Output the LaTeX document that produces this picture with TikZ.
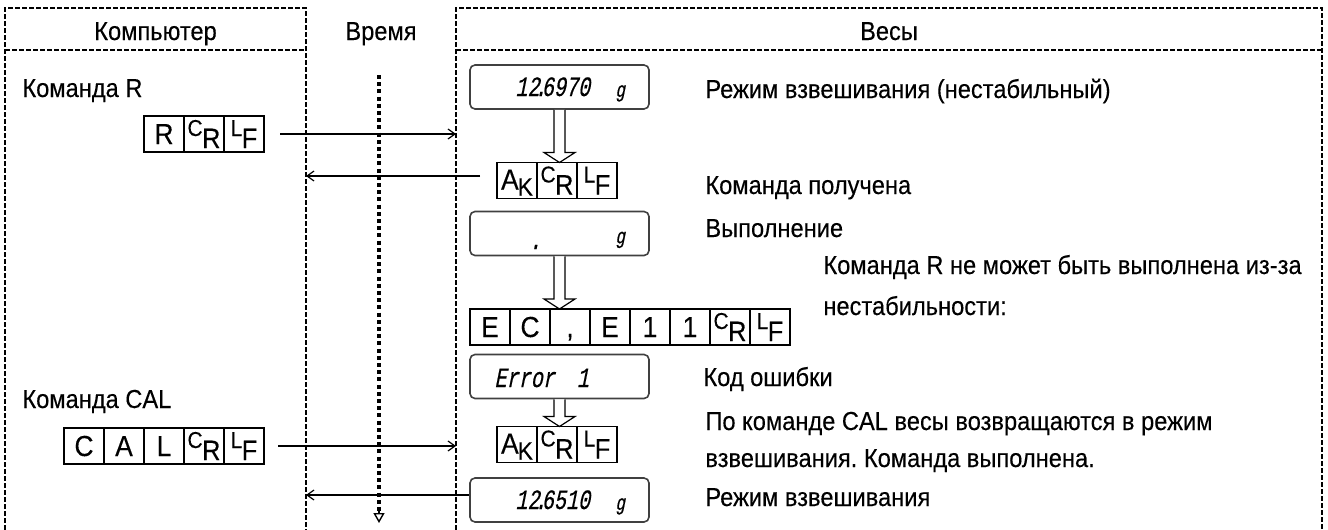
\documentclass[tikz,border=0pt]{standalone}
\usepackage{fontspec}
\setmainfont{Liberation Sans}[FakeStretch=0.91,FakeBold=0.25]
\newfontfamily\lcdfont{Liberation Mono}[FakeSlant=0.2,FakeStretch=0.72,FakeBold=0.4]
\usetikzlibrary{arrows.meta,positioning,calc}
\frenchspacing

% small raised letter followed by a lowered one (CR, LF)
\newcommand{\lopair}[2]{\raisebox{4pt}{\fontsize{11.5}{11.5}\selectfont #1}\kern-0.3pt\raisebox{-2pt}{\fontsize{14}{14}\selectfont #2}}
\newcommand{\akpair}{\raisebox{0.5pt}{A}\kern-0.5pt\raisebox{-2.5pt}{\fontsize{12.5}{12.5}\selectfont K}}
% hollow down arrow from one node to the next
\newcommand{\downblock}[2]{%
  \draw[hol] ([xshift=-2.75pt]#1.south) -- ($(#1.south |- #2.north)+(-5.5,-10)$) -- ++(-10,0)
    -- (#1.south |- #2.north) -- ($(#1.south |- #2.north)+(15.5,-10)$) -- ++(-10,0)
    -- ([xshift=2.75pt]#1.south);}

\begin{document}
\begin{tikzpicture}[x=0.5pt, y=-0.5pt,
    frame/.style={line width=1.2pt, dash pattern=on 2.5pt off 1pt},
    cellbox/.style={draw, line width=0.6pt, minimum width=20pt, minimum height=18pt, inner sep=0pt, outer sep=0pt, text height=10pt, text depth=0pt, font=\fontsize{14.5}{14.5}\selectfont},
    lcdbox/.style={draw=black!75, line width=0.8pt, rounded corners=2.5pt, minimum width=89.5pt, minimum height=22pt, inner sep=0pt},
    lcd/.style={font=\lcdfont\fontsize{14}{14}\selectfont, inner sep=0pt, anchor=base west},
    unit/.style={font=\lcdfont\fontsize{11}{11}\selectfont, inner sep=0pt, anchor=base west},
    txt/.style={anchor=base west, inner sep=0pt, font=\fontsize{13}{15}\selectfont},
    hdr/.style={anchor=base, inner sep=0pt, font=\fontsize{13}{15}\selectfont},
    arr/.style={-{Straight Barb[length=3.5pt,width=5pt]}, line width=0.6pt},
    hol/.style={draw, fill=white, line width=0.6pt, line join=miter},
    timeln/.style={line width=2.4pt, dash pattern=on 2pt off 1.6pt}
]
\useasboundingbox (0,0) rectangle (1328,530);

% frames
\draw[frame] (5,530) -- (5,8) -- (306,8) -- (306,530);
\draw[frame] (5,50) -- (306,50);
\draw[frame] (456,530) -- (456,8) -- (1322,8) -- (1322,530);
\draw[frame] (456,50) -- (1322,50);
\coordinate (pcR) at (306,0);
\coordinate (vesL) at (456,0);

\node[hdr] (hpc) at (155.5,40) {Компьютер};
\node[hdr] (htime) at (381,40) {Время};
\node[hdr] (hves) at (889,40) {Весы};

% time axis
\coordinate (t0) at (379,75);
\coordinate (t1) at (379,511);
\coordinate (t2) at (379,523);
\draw[timeln] (t0) -- (t1);
\draw[-{Triangle[open,length=5pt,width=5.5pt]}, line width=0.7pt] (t1) -- (t2);

% computer side
\node[txt] (cmdr) at (22,97) {Команда R};
\node[cellbox] (r1) at (164,134) {R};
\node[cellbox, right=0pt of r1] (r2) {\lopair{C}{R}};
\node[cellbox, right=0pt of r2] (r3) {\lopair{L}{F}};

\node[txt] (cmdcal) at (22,408) {Команда CAL};
\node[cellbox] (c1) at (84,446) {C};
\node[cellbox, right=0pt of c1] (c2) {A};
\node[cellbox, right=0pt of c2] (c3) {L};
\node[cellbox, right=0pt of c3] (c4) {\lopair{C}{R}};
\node[cellbox, right=0pt of c4] (c5) {\lopair{L}{F}};

% balance side
\node[lcdbox] (d1) at (559.5,87) {};
\node[lcd] (d1v) at (515,96) {12\kern-2.5pt.\kern-2.5pt6970};
\node[unit] (d1u) at (615,97) {g};

\node[cellbox] (ak1) at (517,180.5) {\akpair};
\node[cellbox, right=0pt of ak1] (ak2) {\lopair{C}{R}};
\node[cellbox, right=0pt of ak2] (ak3) {\lopair{L}{F}};

\node[lcdbox] (d2) at (559.5,233.5) {};
\node[lcd] (d2v) at (529,249) {.};
\node[unit] (d2u) at (615,243.5) {g};

\node[cellbox] (e1) at (490,327) {E};
\node[cellbox, right=0pt of e1] (e2) {C};
\node[cellbox, right=0pt of e2] (e3) {,};
\node[cellbox, right=0pt of e3] (e4) {E};
\node[cellbox, right=0pt of e4] (e5) {1};
\node[cellbox, right=0pt of e5] (e6) {1};
\node[cellbox, right=0pt of e6] (e7) {\lopair{C}{R}};
\node[cellbox, right=0pt of e7] (e8) {\lopair{L}{F}};

\node[lcdbox] (d3) at (559.5,376.5) {};
\node[lcd] (d3v) at (494,387) {Error\hspace{11pt}1};

\node[cellbox] (ak4) at (517,444.5) {\akpair};
\node[cellbox, right=0pt of ak4] (ak5) {\lopair{C}{R}};
\node[cellbox, right=0pt of ak5] (ak6) {\lopair{L}{F}};

\node[lcdbox] (d4) at (559.5,500) {};
\node[lcd] (d4v) at (515,509) {12\kern-2.5pt.\kern-2.5pt6510};
\node[unit] (d4u) at (615,510) {g};

\downblock{d1}{ak1}
\downblock{d2}{e1}
\downblock{d3}{ak4}

% messages
\draw[arr] ([xshift=8pt]r3.east) -- (r3.east -| vesL);
\coordinate (a2s) at ([shift={(-17,-4.5)}]ak1.west);
\draw[arr] (a2s) -- (a2s -| pcR);
\draw[arr] ([xshift=7pt]c5.east) -- (c5.east -| vesL);
\coordinate (a4s) at ([yshift=2.5pt]d4.west);
\draw[arr] (a4s) -- (a4s -| pcR);

% notes
\node[txt] (n1) at (705,98) {Режим взвешивания (нестабильный)};
\node[txt] (n2) at (705,194) {Команда получена};
\node[txt] (n3) at (705,237) {Выполнение};
\node[txt] (n4) at (823,274) {Команда R не может быть выполнена из-за};
\node[txt] (n5) at (823,315) {нестабильности:};
\node[txt] (n6) at (703,386) {Код ошибки};
\node[txt] (n7) at (705,430) {По команде CAL весы возвращаются в режим};
\node[txt] (n8) at (705,467) {взвешивания. Команда выполнена.};
\node[txt] (n9) at (705,506) {Режим взвешивания};
\end{tikzpicture}
\end{document}
